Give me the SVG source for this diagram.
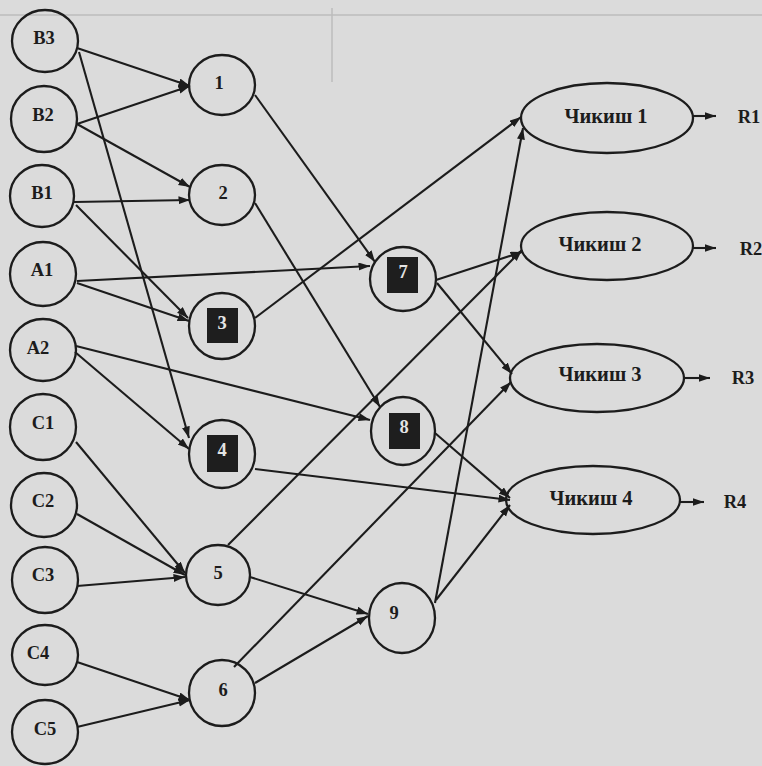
<svg xmlns="http://www.w3.org/2000/svg" width="762" height="766" viewBox="0 0 762 766">
  <style>
    .node { fill: none; stroke: #1c1c1c; stroke-width: 2.3; }
    .lbl { font-family: "Liberation Serif", "Times New Roman", serif; font-weight: bold; font-size: 18.5px; fill: #1c1c1c; text-anchor: middle; }
    .big { font-size: 20.5px; }
    .inv { fill: #e4e4e4; }
    .box { fill: #1e1e1e; }
    .edge { stroke: #1c1c1c; stroke-width: 2.1; fill: none; marker-end: url(#arrow); }
    .rule { stroke: #bcbcbc; stroke-width: 1.5; fill: none; }
  </style>
  <defs>
    <marker id="arrow" markerUnits="userSpaceOnUse" markerWidth="13" markerHeight="10" refX="11.5" refY="4" orient="auto">
      <path d="M0,0 L11.5,4 L0,8 z" fill="#1c1c1c"/>
    </marker>
  </defs>

  <!-- paper -->
  <rect x="0" y="0" width="762" height="766" fill="#dbdbdb"/>
  <g id="paper-marks">
    <line class="rule" x1="0" y1="15" x2="762" y2="15"/>
    <line class="rule" x1="332" y1="8" x2="332" y2="82"/>
  </g>

  <!-- connectors -->
  <g id="connectors">
    <line class="edge" x1="77" y1="48" x2="190" y2="86"/>
    <line class="edge" x1="79" y1="52" x2="189" y2="438"/>
    <line class="edge" x1="77" y1="124" x2="190" y2="86"/>
    <line class="edge" x1="77" y1="124" x2="190" y2="187"/>
    <line class="edge" x1="74" y1="202" x2="190" y2="200"/>
    <line class="edge" x1="76" y1="205" x2="188" y2="318"/>
    <line class="edge" x1="77" y1="281" x2="370" y2="266"/>
    <line class="edge" x1="77" y1="283" x2="189" y2="321"/>
    <line class="edge" x1="76" y1="346" x2="370" y2="420"/>
    <line class="edge" x1="75" y1="352" x2="189" y2="449"/>
    <line class="edge" x1="76" y1="442" x2="185" y2="573"/>
    <line class="edge" x1="77" y1="514" x2="185" y2="575"/>
    <line class="edge" x1="77" y1="586" x2="185" y2="577"/>
    <line class="edge" x1="77" y1="662" x2="190" y2="700"/>
    <line class="edge" x1="77" y1="727" x2="190" y2="700"/>
    <line class="edge" x1="255" y1="95" x2="375" y2="262"/>
    <line class="edge" x1="255" y1="203" x2="380" y2="407"/>
    <line class="edge" x1="255" y1="318" x2="521" y2="117"/>
    <line class="edge" x1="228" y1="545" x2="522" y2="250"/>
    <line class="edge" x1="234" y1="667" x2="511" y2="382"/>
    <line class="edge" x1="436" y1="280" x2="522" y2="252"/>
    <line class="edge" x1="437" y1="283" x2="512" y2="374"/>
    <line class="edge" x1="435" y1="433" x2="510" y2="498"/>
    <line class="edge" x1="255" y1="469" x2="510" y2="500"/>
    <line class="edge" x1="250" y1="577" x2="368" y2="614"/>
    <line class="edge" x1="255" y1="683" x2="368" y2="616"/>
    <line class="edge" x1="435" y1="603" x2="523" y2="128"/>
    <line class="edge" x1="436" y1="600" x2="510" y2="505"/>
    <line class="edge" x1="693" y1="116" x2="716" y2="116"/>
    <line class="edge" x1="693" y1="248" x2="716" y2="248"/>
    <line class="edge" x1="685" y1="378" x2="710" y2="378"/>
    <line class="edge" x1="680" y1="502" x2="704" y2="502"/>
  </g>

  <!-- inputs -->
  <g id="B3"><ellipse class="node" cx="45" cy="41" rx="33" ry="31"/><text class="lbl" x="44" y="44">B3</text></g>
  <g id="B2"><ellipse class="node" cx="44" cy="119" rx="33" ry="33"/><text class="lbl" x="43" y="121">B2</text></g>
  <g id="B1"><ellipse class="node" cx="42" cy="196" rx="32" ry="31"/><text class="lbl" x="42" y="199">B1</text></g>
  <g id="A1"><ellipse class="node" cx="43" cy="274" rx="33" ry="32"/><text class="lbl" x="42" y="276">A1</text></g>
  <g id="A2"><ellipse class="node" cx="43" cy="350" rx="33" ry="31"/><text class="lbl" x="38" y="354">A2</text></g>
  <g id="C1"><ellipse class="node" cx="43" cy="427" rx="33" ry="33"/><text class="lbl" x="43" y="429">C1</text></g>
  <g id="C2"><ellipse class="node" cx="44" cy="505" rx="33" ry="32"/><text class="lbl" x="43" y="507">C2</text></g>
  <g id="C3"><ellipse class="node" cx="45" cy="580" rx="33" ry="33"/><text class="lbl" x="43" y="581">C3</text></g>
  <g id="C4"><ellipse class="node" cx="45" cy="655" rx="33" ry="30"/><text class="lbl" x="38" y="659">C4</text></g>
  <g id="C5"><ellipse class="node" cx="45" cy="732" rx="33" ry="32"/><text class="lbl" x="45" y="735">C5</text></g>

  <!-- intermediate nodes -->
  <g id="n1"><ellipse class="node" cx="222" cy="85" rx="33" ry="30"/><text class="lbl" x="219" y="89">1</text></g>
  <g id="n2"><ellipse class="node" cx="222" cy="195" rx="33" ry="30"/><text class="lbl" x="223" y="199">2</text></g>
  <g id="n3"><ellipse class="node" cx="222" cy="326" rx="33" ry="33"/><rect class="box" x="207" y="308" width="31" height="35"/><text class="lbl inv" x="222" y="329">3</text></g>
  <g id="n4"><ellipse class="node" cx="222" cy="454" rx="33" ry="34"/><rect class="box" x="207" y="435" width="31" height="37"/><text class="lbl inv" x="222" y="456">4</text></g>
  <g id="n5"><ellipse class="node" cx="218" cy="575" rx="32" ry="30"/><text class="lbl" x="218" y="579">5</text></g>
  <g id="n6"><ellipse class="node" cx="222" cy="693" rx="33" ry="33"/><text class="lbl" x="223" y="696">6</text></g>
  <g id="n7"><ellipse class="node" cx="403" cy="279" rx="33" ry="32"/><rect class="box" x="387" y="257" width="31" height="36"/><text class="lbl inv" x="403" y="278">7</text></g>
  <g id="n8"><ellipse class="node" cx="403" cy="431" rx="32" ry="34"/><rect class="box" x="389" y="413" width="31" height="36"/><text class="lbl inv" x="404" y="433">8</text></g>
  <g id="n9"><ellipse class="node" cx="402" cy="618" rx="33" ry="35"/><text class="lbl" x="394" y="619">9</text></g>

  <!-- outputs -->
  <g id="chikish1"><ellipse class="node" cx="607" cy="118" rx="86" ry="35"/><text class="lbl big" x="606" y="123">Чикиш 1</text></g>
  <g id="chikish2"><ellipse class="node" cx="607" cy="246" rx="86" ry="34"/><text class="lbl big" x="600" y="251">Чикиш 2</text></g>
  <g id="chikish3"><ellipse class="node" cx="597" cy="378" rx="87" ry="34"/><text class="lbl big" x="600" y="381">Чикиш 3</text></g>
  <g id="chikish4"><ellipse class="node" cx="593" cy="500" rx="87" ry="34"/><text class="lbl big" x="591" y="505">Чикиш 4</text></g>

  <g id="R1"><text class="lbl" x="749" y="123">R1</text></g>
  <g id="R2"><text class="lbl" x="751" y="255">R2</text></g>
  <g id="R3"><text class="lbl" x="743" y="384">R3</text></g>
  <g id="R4"><text class="lbl" x="735" y="508">R4</text></g>
</svg>
